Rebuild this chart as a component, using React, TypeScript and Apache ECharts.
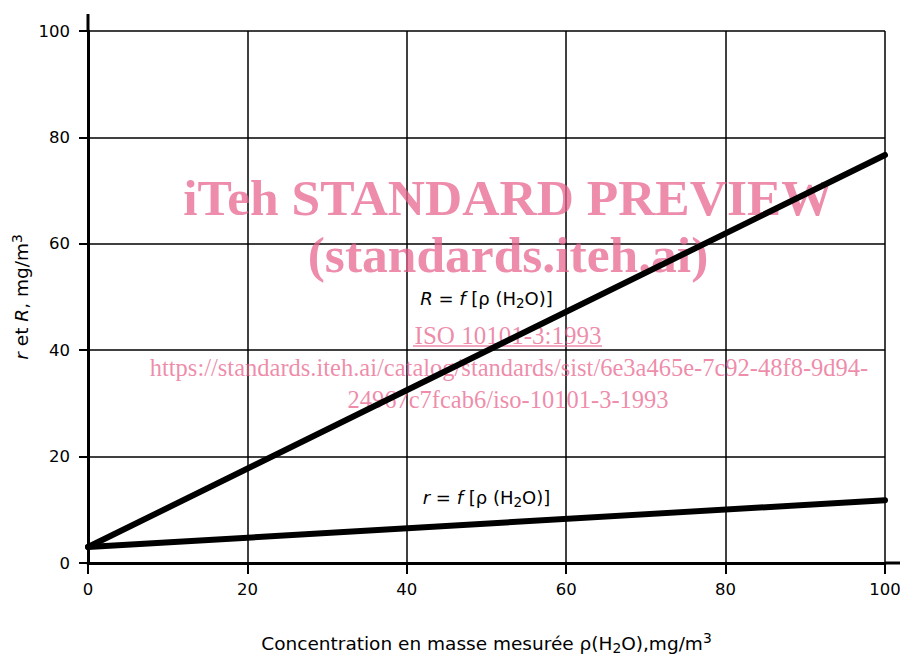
import React, { useEffect, useRef } from "react";
import * as echarts from "echarts";

const concentration = [0, 100];
const RValues = [3, 76.7];
const rValues = [3, 11.8];
const axisMin = 0;
const axisMax = 100;
const axisStep = 20;

const xAxisName = "Concentration en masse mesurée ρ(H{s|2}O),mg/m{p|3}";
const yAxisName = "{i|r} et {i|R}, mg/m{p|3}";
const labelR = { x: 50, y: 49.8 };
const labelr = { x: 50, y: 12.4 };

const watermarkLines = [
  "iTeh STANDARD PREVIEW",
  "(standards.iteh.ai)",
  "ISO 10101-3:1993",
  "https://standards.iteh.ai/catalog/standards/sist/6e3a465e-7c92-48f8-9d94-",
  "24967c7fcab6/iso-10101-3-1993",
];

const FONT = "DejaVu Sans";
const PINK = "#e8608a";

const makeRich = (size: number, fillKey: string) => ({
  i: { fontFamily: FONT, fontSize: size, fontStyle: "italic", [fillKey]: "#000", lineHeight: size + 6, verticalAlign: "middle" },
  n: { fontFamily: FONT, fontSize: size, [fillKey]: "#000", lineHeight: size + 6, verticalAlign: "middle" },
  s: { fontFamily: FONT, fontSize: size * 0.75, [fillKey]: "#000", lineHeight: size * 0.75, verticalAlign: "bottom" },
  p: { fontFamily: FONT, fontSize: size * 0.75, [fillKey]: "#000", lineHeight: size * 0.75, verticalAlign: "top" },
});

export default function App() {
  const ref = useRef<HTMLDivElement>(null);
  useEffect(() => {
    if (!ref.current) return;
    const chart = echarts.init(ref.current, null, { renderer: "svg" });
    const option: any = {
      animation: false,
      backgroundColor: "#fff",
      grid: { left: 88, right: 15, top: 31, bottom: 95, outerBoundsMode: "none", containLabel: false },
      xAxis: {
        type: "value",
        min: axisMin,
        max: axisMax,
        interval: axisStep,
        name: xAxisName,
        nameLocation: "middle",
        nameGap: 68,
        nameMoveOverlap: false,
        nameTextStyle: { fontFamily: FONT, fontSize: 18.5, color: "#000", lineHeight: 24, rich: makeRich(18.5, "color") },
        axisLine: { show: true, lineStyle: { color: "#000", width: 3 } },
        axisTick: { show: true, length: 11, lineStyle: { color: "#000", width: 2 } },
        axisLabel: { margin: 18, fontFamily: FONT, fontSize: 16.5, color: "#000" },
        splitLine: { show: true, lineStyle: { color: "#000", width: 1.5 } },
      },
      yAxis: {
        type: "value",
        min: axisMin,
        max: axisMax,
        interval: axisStep,
        name: yAxisName,
        nameLocation: "middle",
        nameGap: 54,
        nameRotate: 90,
        nameMoveOverlap: false,
        nameTextStyle: { fontFamily: FONT, fontSize: 18.5, color: "#000", lineHeight: 24, rich: makeRich(18.5, "color") },
        axisLine: { show: true, lineStyle: { color: "#000", width: 3 } },
        axisTick: { show: true, length: 9, lineStyle: { color: "#000", width: 2 } },
        axisLabel: { margin: 18, fontFamily: FONT, fontSize: 16.5, color: "#000" },
        splitLine: { show: true, lineStyle: { color: "#000", width: 1.5 } },
      },
      series: [
        {
          type: "line",
          name: "R",
          data: concentration.map((c, i) => [c, RValues[i]]),
          showSymbol: false,
          lineStyle: { color: "#000", width: 6, cap: "round" },
          z: 5,
        },
        {
          type: "line",
          name: "r",
          data: concentration.map((c, i) => [c, rValues[i]]),
          showSymbol: false,
          lineStyle: { color: "#000", width: 6, cap: "round" },
          z: 5,
        },
      ],
    };
    chart.setOption(option);

    const p00 = chart.convertToPixel({ gridIndex: 0 }, [axisMin, axisMin]) as number[];
    const p11 = chart.convertToPixel({ gridIndex: 0 }, [axisMax, axisMax]) as number[];
    const pR = chart.convertToPixel({ gridIndex: 0 }, [labelR.x, labelR.y]) as number[];
    const pr = chart.convertToPixel({ gridIndex: 0 }, [labelr.x, labelr.y]) as number[];

    const eqRich = makeRich(18, "fill");

    const wm = (text: string, x: number, y: number, size: number, bold: boolean) => ({
      type: "text",
      x,
      y,
      style: {
        text,
        fontFamily: "Liberation Serif",
        fontWeight: bold ? "bold" : "normal",
        fontSize: size,
        fill: PINK,
        opacity: 0.72,
        align: "center",
        verticalAlign: "middle",
      },
    });

    chart.setOption({
      graphic: [
        {
          type: "line",
          shape: { x1: p00[0], y1: p11[1], x2: p00[0], y2: p11[1] - 17 },
          style: { stroke: "#000", lineWidth: 3 },
          z: 10,
        },
        {
          type: "line",
          shape: { x1: p11[0], y1: p00[1], x2: 900, y2: p00[1] },
          style: { stroke: "#000", lineWidth: 3 },
          z: 10,
        },
        {
          type: "text",
          x: pR[0],
          y: pR[1],
          z: 10,
          style: {
            text: "{i|R}{n| = }{i|f}{n| [ρ (H}{s|2}{n|O)]}",
            fontFamily: FONT,
            fontSize: 18,
            fill: "#000",
            align: "center",
            verticalAlign: "middle",
            rich: eqRich,
          },
        },
        {
          type: "text",
          x: pr[0],
          y: pr[1],
          z: 10,
          style: {
            text: "{i|r}{n| = }{i|f}{n| [ρ (H}{s|2}{n|O)]}",
            fontFamily: FONT,
            fontSize: 18,
            fill: "#000",
            align: "center",
            verticalAlign: "middle",
            rich: eqRich,
          },
        },
        {
          type: "group",
          z: 20,
          children: [
            wm(watermarkLines[0], 508, 197, 51.5, true),
            wm(watermarkLines[1], 508, 254, 51.5, true),
            wm(watermarkLines[2], 508, 335, 25, false),
            { type: "line", shape: { x1: 413, y1: 346, x2: 602, y2: 346 }, style: { stroke: PINK, opacity: 0.72, lineWidth: 1.5 } },
            wm(watermarkLines[3], 509, 367, 24.5, false),
            wm(watermarkLines[4], 508, 399, 24.5, false),
          ],
        },
      ],
    });

    return () => chart.dispose();
  }, []);
  return <div ref={ref} style={{ width: 900, height: 658, position: "absolute", left: 0, top: 0 }} />;
}
